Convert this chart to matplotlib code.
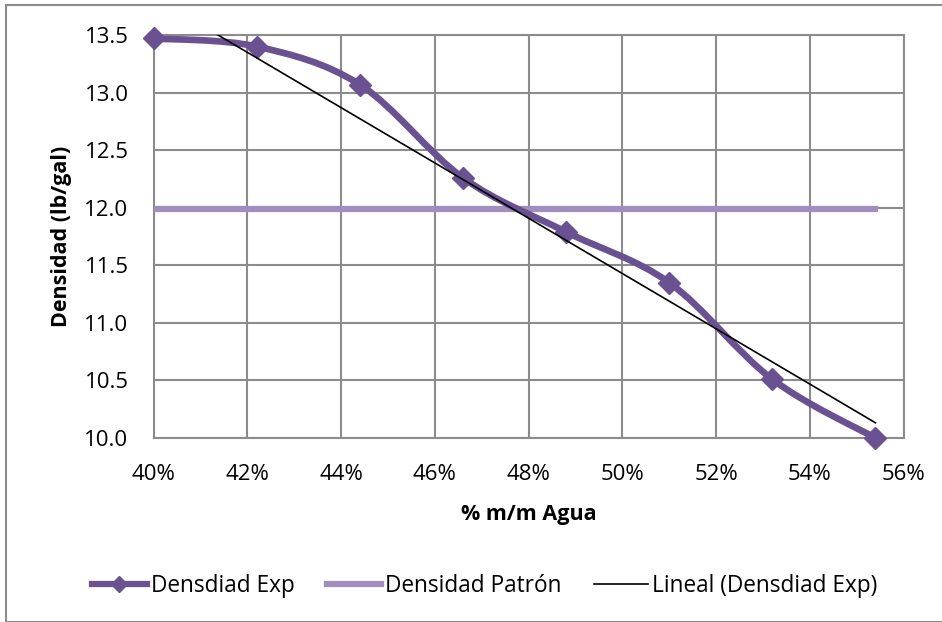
import numpy as np
import matplotlib
matplotlib.use("Agg")
import matplotlib.pyplot as plt
from matplotlib.path import Path
from matplotlib.patches import PathPatch, Rectangle
from matplotlib.lines import Line2D
from matplotlib.ticker import FuncFormatter

plt.rcParams['font.family'] = ['Open Sans', 'DejaVu Sans']

# % m/m agua vs densidad medida
agua = [40.0, 42.2, 44.4, 46.6, 48.8, 51.0, 53.2, 55.4]
dens_exp = [13.47, 13.40, 13.07, 12.26, 11.79, 11.35, 10.51, 10.00]
dens_patron = [11.99] * len(agua)

morado = '#6A5192'
lila = '#A08EBE'
gris = '#8C8C8C'

fig = plt.figure(figsize=(9.42, 6.22), dpi=100)
fig.patches.append(Rectangle((6 / 942, 0), 1.2, 1 - 5 / 622, transform=fig.transFigure,
                             fill=False, edgecolor=gris, lw=1.5, zorder=0))
ax = fig.add_axes([153.5 / 942, 1 - 438 / 622, 750 / 942, 403 / 622])

# curva suavizada (bezier estilo Excel)
x = np.array(agua)
y = np.array(dens_exp)
verts = [(x[0], y[0])]
codes = [Path.MOVETO]
n = len(x)
for i in range(n - 1):
    i0 = max(i - 1, 0)
    i3 = min(i + 2, n - 1)
    c1 = (x[i] + (x[i + 1] - x[i0]) / 6, y[i] + (y[i + 1] - y[i0]) / 6)
    c2 = (x[i + 1] - (x[i3] - x[i]) / 6, y[i + 1] - (y[i3] - y[i]) / 6)
    verts += [c1, c2, (x[i + 1], y[i + 1])]
    codes += [Path.CURVE4] * 3
ax.add_patch(PathPatch(Path(verts, codes), facecolor='none', edgecolor=morado,
                       lw=4.8, capstyle='round', joinstyle='round', zorder=4))
ax.plot(agua, dens_exp, ls='none', marker='D', ms=11, color=morado, zorder=5, clip_on=False)

ax.plot(agua, dens_patron, color=lila, lw=4.5, zorder=3)

# tendencia lineal
m, b = np.polyfit(x, y, 1)
ax.plot(x, m * x + b, color='black', lw=1.2, zorder=6)

ax.set_xlim(40, 56)
ax.set_ylim(10.0, 13.5)
ax.set_xticks(np.arange(40, 57, 2))
ax.set_yticks(np.arange(10.0, 13.51, 0.5))
ax.xaxis.set_major_formatter(FuncFormatter(lambda v, p: f"{v:.0f}%"))
ax.yaxis.set_major_formatter(FuncFormatter(lambda v, p: f"{v:.1f}"))
ax.grid(True, color=gris, lw=1.5)
ax.set_axisbelow(True)
for s in ax.spines.values():
    s.set_color(gris)
    s.set_linewidth(1.5)
ax.tick_params(length=0, labelsize=16)
ax.tick_params(axis='x', pad=19)
ax.tick_params(axis='y', pad=18)
ax.set_xlabel('% m/m Agua', fontsize=15.5, fontweight='bold')
ax.set_ylabel('Densidad (lb/gal)', fontsize=15.5, fontweight='bold')
ax.xaxis.set_label_coords(0.5, -0.165)
ax.yaxis.set_label_coords(-0.109, 0.5)

handles = [
    Line2D([], [], color=morado, lw=4.5, marker='D', ms=8),
    Line2D([], [], color=lila, lw=4.5),
    Line2D([], [], color='black', lw=1.2),
]
fig.legend(handles, ['Densdiad Exp', 'Densidad Patrón', 'Lineal (Densdiad Exp)'],
           loc='center', bbox_to_anchor=(485 / 942, 1 - 586 / 622), ncol=3,
           frameon=False, fontsize=16.3, handlelength=2.4, handletextpad=0.2,
           columnspacing=1.4)

fig.savefig('out.png', dpi=100)
